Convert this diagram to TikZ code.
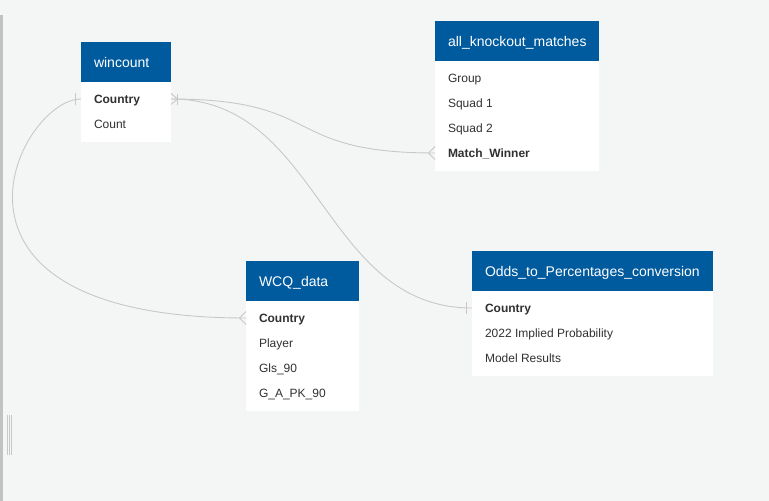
\documentclass[tikz,border=0pt]{standalone}
\usepackage{fontspec}
\setmainfont{Liberation Sans}
\usetikzlibrary{calc}
\definecolor{bgc}{HTML}{F4F5F5}
\definecolor{hdrblue}{HTML}{005A9E}
\definecolor{connc}{HTML}{C8C8C8}
\definecolor{txtc}{HTML}{323130}
\definecolor{barc}{HTML}{C2C2C2}
\begin{document}
\begin{tikzpicture}[x=1pt,y=-1pt,
  every node/.style={inner sep=0pt, outer sep=0pt},
  hdrbox/.style={fill=hdrblue, anchor=north west, minimum height=40pt},
  bodybox/.style={fill=white, anchor=north west},
  ttl/.style={anchor=west, text=white, font=\fontsize{14}{16}\selectfont, text height=10pt, text depth=0pt},
  fld/.style={anchor=west, text=txtc, font=\fontsize{12}{14}\selectfont, text height=9pt, text depth=0pt},
  keyfld/.style={fld, font=\fontsize{12}{14}\selectfont\bfseries},
  conn/.style={draw=connc, line width=0.9pt},
]
\useasboundingbox (0,0) rectangle (769,501);
\fill[bgc] (0,0) rectangle (769,501);
% left window edge
\fill[barc] (0,15) rectangle (3,501);
\foreach \xx in {7.5,9.5,11.5} \draw[connc, line width=0.6pt] (\xx,415) -- (\xx,455);

% ---- wincount
\node[hdrbox, minimum width=90pt] (wc-h) at (81,42) {};
\node[bodybox, minimum width=90pt, minimum height=60pt] (wc-b) at (81,82) {};
\node[ttl] (wc-t) at (94,62) {wincount};
\node[keyfld] (wc-country) at (94,99) {Country};
\node[fld] (wc-count) at (94,124) {Count};

% ---- all_knockout_matches
\node[hdrbox, minimum width=164pt] (ko-h) at (435,21) {};
\node[bodybox, minimum width=164pt, minimum height=110pt] (ko-b) at (435,61) {};
\node[ttl] (ko-t) at (448,41) {all\_knockout\_matches};
\node[fld] (ko-group) at (448,78) {Group};
\node[fld] (ko-s1) at (448,103) {Squad 1};
\node[fld] (ko-s2) at (448,128) {Squad 2};
\node[keyfld] (ko-mw) at (448,153) {Match\_Winner};

% ---- WCQ_data
\node[hdrbox, minimum width=113pt] (wq-h) at (246,261) {};
\node[bodybox, minimum width=113pt, minimum height=110pt] (wq-b) at (246,301) {};
\node[ttl] (wq-t) at (259,281) {WCQ\_data};
\node[keyfld] (wq-country) at (259,318) {Country};
\node[fld] (wq-player) at (259,343) {Player};
\node[fld] (wq-gls) at (259,368) {Gls\_90};
\node[fld] (wq-gapk) at (259,393) {G\_A\_PK\_90};

% ---- Odds_to_Percentages_conversion
\node[hdrbox, minimum width=241pt] (od-h) at (472,251) {};
\node[bodybox, minimum width=241pt, minimum height=85pt] (od-b) at (472,291) {};
\node[ttl] (od-t) at (485,271) {Odds\_to\_Percentages\_conversion};
\node[keyfld] (od-country) at (485,308) {Country};
\node[fld] (od-imp) at (485,333) {2022 Implied Probability};
\node[fld] (od-model) at (485,358) {Model Results};

% ---- connectors
\draw[conn] (wc-b.west |- wc-country) .. controls +(-62,0) and +(-339,0) .. (wq-b.west |- wq-country);
\draw[conn] (wc-b.east |- wc-country) .. controls +(155,0) and +(-155,0) .. (ko-b.west |- ko-mw);
\draw[conn] (wc-b.east |- wc-country) .. controls +(150,0) and +(-150,0) .. (od-b.west |- od-country);

% ---- markers
\draw[conn] ($(wc-b.west |- wc-country)+(-6,-6)$) -- ++(0,12);
\draw[conn] ($(wc-b.east |- wc-country)+(0,-5.5)$) -- ++(6.5,5.5) -- ++(-6.5,5.5);
\draw[conn] ($(wc-b.east |- wc-country)+(6.5,-5.5)$) -- ++(0,11);
\draw[conn] ($(ko-b.west |- ko-mw)+(0,-6.5)$) -- ++(-6.5,6.5) -- ++(6.5,6.5);
\draw[conn] ($(wq-b.west |- wq-country)+(0,-6.5)$) -- ++(-6.5,6.5) -- ++(6.5,6.5);
\draw[conn] ($(od-b.west |- od-country)+(-6,-6)$) -- ++(0,12);
\end{tikzpicture}
\end{document}
